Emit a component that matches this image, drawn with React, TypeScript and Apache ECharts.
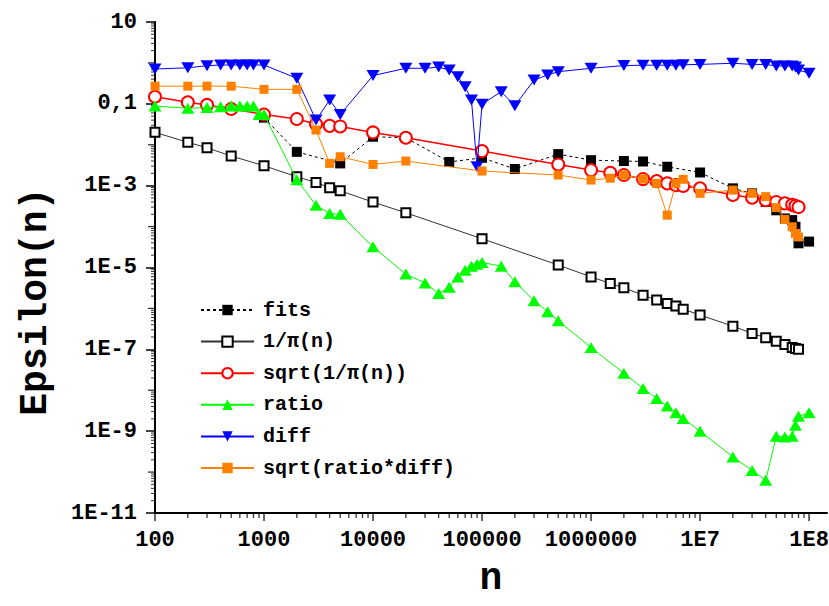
import React, { useEffect, useRef } from 'react';
import * as echarts from 'echarts';

const FONT = '"Liberation Mono", "Courier New", monospace';

// ---- data ----
const fitsN = [1000, 2000, 5000, 10000, 20000, 50000, 100000, 200000, 500000, 1e6, 2e6, 3e6, 5e6, 1e7, 2e7, 3e7, 4e7, 5e7, 6e7, 7e7, 7.5e7, 8e7, 1e8];
const fitsV = [0.046, 0.0067, 0.0035, 0.0157, 0.0148, 0.0038, 0.0048, 0.00255, 0.0059, 0.0042, 0.0040, 0.0039, 0.0029, 0.0021, 0.00086, 0.00065, 0.00040, 0.00025, 0.000158, 0.000144, 9.9e-5, 3.9e-5, 4.3e-5];

const piN = [100, 200, 300, 500, 1000, 2000, 3000, 4000, 5000, 10000, 20000, 100000, 500000, 1e6, 1.5e6, 2e6, 3e6, 4e6, 5e6, 6e6, 7e6, 1e7, 2e7, 3e7, 4e7, 5e7, 6e7, 7e7, 7.5e7, 8e7];
const invPiV = [0.0201, 0.01145, 0.00845, 0.0053, 0.00307, 0.00165, 0.0012, 0.00089, 0.00075, 3.97e-4, 2.17e-4, 5.04e-5, 1.15e-5, 5.9e-6, 4.08e-6, 3.19e-6, 2.11e-6, 1.6e-6, 1.32e-6, 1.14e-6, 9.6e-7, 6.86e-7, 3.69e-7, 2.45e-7, 1.91e-7, 1.58e-7, 1.32e-7, 1.11e-7, 1.05e-7, 1.0e-7];
const sqrtInvPiV = [0.149, 0.109, 0.094, 0.075, 0.055, 0.0425, 0.032, 0.029, 0.028, 0.020, 0.0148, 0.0070, 0.0033, 0.0024, 0.00206, 0.00182, 0.00145, 0.00129, 0.00114, 0.00103, 0.00098, 0.00086, 0.00059, 0.00051, 0.00044, 0.0004, 0.00037, 0.00034, 0.00032, 0.0003];

const ratioN = [100, 200, 300, 400, 500, 600, 700, 800, 900, 1000, 2000, 3000, 4000, 5000, 10000, 20000, 30000, 40000, 50000, 60000, 70000, 80000, 90000, 100000, 150000, 200000, 300000, 400000, 500000, 1e6, 2e6, 3e6, 4e6, 5e6, 6e6, 7e6, 1e7, 2e7, 3e7, 4e7, 5e7, 6e7, 7e7, 7.5e7, 8e7, 1e8];
const ratioV = [0.088, 0.078, 0.081, 0.085, 0.088, 0.088, 0.088, 0.088, 0.055, 0.055, 0.0014, 3.3e-4, 2.1e-4, 2.0e-4, 3.2e-5, 6.9e-6, 4.2e-6, 2.3e-6, 3.3e-6, 5.9e-6, 8.6e-6, 1.08e-5, 1.2e-5, 1.33e-5, 1.08e-5, 4.5e-6, 1.54e-6, 8.3e-7, 5.0e-7, 1.11e-7, 2.6e-8, 1.1e-8, 6.3e-9, 4.1e-9, 2.8e-9, 2.05e-9, 1.0e-9, 2.35e-10, 1.1e-10, 6.3e-11, 7.5e-10, 7.2e-10, 7.5e-10, 1.4e-9, 2.3e-9, 2.8e-9];

const diffN = [100, 200, 300, 400, 500, 600, 700, 800, 1000, 2000, 3000, 4000, 5000, 10000, 20000, 30000, 40000, 50000, 60000, 70000, 80000, 90000, 100000, 150000, 200000, 300000, 400000, 500000, 1e6, 2e6, 3e6, 4e6, 5e6, 6e6, 7e6, 1e7, 2e7, 3e7, 4e7, 5e7, 6e7, 7e7, 7.5e7, 8e7, 1e8];
const diffV = [0.71, 0.76, 0.855, 0.89, 0.89, 0.89, 0.89, 0.89, 0.89, 0.42, 0.04, 0.124, 0.055, 0.49, 0.74, 0.74, 0.79, 0.67, 0.46, 0.26, 0.124, 0.0029, 0.098, 0.198, 0.09, 0.38, 0.51, 0.61, 0.74, 0.86, 0.88, 0.88, 0.88, 0.88, 0.9, 0.92, 0.98, 0.92, 0.92, 0.84, 0.84, 0.84, 0.8, 0.67, 0.56];

const sqrtRdN = [100, 200, 300, 500, 1000, 2000, 3000, 4000, 5000, 10000, 20000, 100000, 500000, 1e6, 1.5e6, 2e6, 3e6, 4e6, 5e6, 6e6, 7e6, 1e7, 2e7, 3e7, 4e7, 5e7, 6e7, 7e7, 7.5e7, 8e7];
const sqrtRdV = [0.27, 0.27, 0.27, 0.27, 0.226, 0.226, 0.0229, 0.0035, 0.0051, 0.0033, 0.004, 0.00228, 0.00182, 0.00137, 0.00152, 0.00182, 0.00145, 0.00114, 0.00019, 0.00114, 0.00143, 0.00065, 0.00078, 0.00065, 0.00054, 0.00029, 0.00015, 9.9e-5, 6.8e-5, 5.6e-5];

const X_MIN = 100;
const X_MAX = 1.46e8;
const Y_MIN = 1e-11;
const Y_MAX = 10;
const xDecades = [2, 3, 4, 5, 6, 7, 8];
const yDecades = [-11, -10, -9, -8, -7, -6, -5, -4, -3, -2, -1, 0, 1];
const minorMult = [2, 3, 4, 5, 6, 7, 8, 9];

const zip = (xs: number[], ys: number[]) => xs.map((x, i) => [x, ys[i]]);

export default function App() {
  const ref = useRef<HTMLDivElement>(null);
  useEffect(() => {
    const chart = echarts.init(ref.current!, null, { renderer: 'svg' });

    const fmtPow = (v: number, yAxis: boolean) => {
      const e = Math.log10(v);
      const r = Math.round(e);
      if (Math.abs(e - r) > 1e-6) return '';
      if (yAxis) {
        if (r === 1) return '10';
        if (r === -1) return '0,1';
        return '1E' + r;
      }
      return r <= 6 ? String(Math.round(Math.pow(10, r))) : '1E' + r;
    };

    const lineSeries = (name: string, data: number[][], o: any) => ({
      name,
      type: 'line',
      data,
      ...o,
    });

    // tick positions (values), drawn as short bar symbols through the axes' own scales
    const xMajor: number[][] = xDecades.map((e) => [Math.pow(10, e), Y_MIN]);
    const xMinor: number[][] = [];
    xDecades.forEach((e) => {
      if (e < 8) minorMult.forEach((m) => xMinor.push([m * Math.pow(10, e), Y_MIN]));
    });
    const yMid: number[][] = yDecades.filter((e) => e % 2 === 0).map((e) => [X_MIN, Math.pow(10, e)]);
    const yMinor: number[][] = [];
    yDecades.forEach((e) => {
      if (e < 1) minorMult.forEach((m) => yMinor.push([X_MIN, m * Math.pow(10, e)]));
    });
    const tickSeries = (data: number[][], size: number[], offset: number[]) => ({
      type: 'scatter',
      data,
      symbol: 'rect',
      symbolSize: size,
      symbolOffset: offset,
      itemStyle: { color: '#000' },
      silent: true,
      clip: false,
      z: 1,
      tooltip: { show: false },
    });

    chart.setOption({
      animation: false,
      backgroundColor: '#fff',
      grid: { left: 155, top: 22, right: 2, bottom: 93, containLabel: false, outerBoundsMode: 'none' },
      legend: {
        orient: 'vertical',
        left: 195,
        top: 295,
        itemWidth: 53,
        itemHeight: 13,
        itemGap: 11.6,
        data: ['fits', '1/π(n)', 'sqrt(1/π(n))', 'ratio', 'diff', 'sqrt(ratio*diff)'],
        textStyle: { fontFamily: FONT, fontWeight: 'bold', fontSize: 20, color: '#000', lineHeight: 20, padding: [0, 0, 0, 4] },
      },
      xAxis: {
        type: 'log',
        logBase: 10,
        min: X_MIN,
        max: X_MAX,
        interval: 1,
        name: 'n',
        nameLocation: 'middle',
        nameGap: 46,
        nameTextStyle: { fontFamily: FONT, fontWeight: 'bold', fontSize: 38, color: '#000' },
        axisLine: { show: true, lineStyle: { color: '#000', width: 2 } },
        axisTick: { show: false },
        minorTick: { show: false },
        splitLine: { show: false },
        axisLabel: {
          margin: 16,
          fontFamily: FONT,
          fontWeight: 'bold',
          fontSize: 22,
          color: '#000',
          formatter: (v: number) => fmtPow(v, false),
        },
      },
      yAxis: {
        type: 'log',
        logBase: 10,
        min: Y_MIN,
        max: Y_MAX,
        interval: 2,
        name: 'Epsilon(n)\u00a0\u00a0\u00a0',
        nameLocation: 'middle',
        nameRotate: 90,
        nameGap: 101,
        nameTextStyle: { fontFamily: FONT, fontWeight: 'bold', fontSize: 38, color: '#000' },
        axisLine: { show: true, lineStyle: { color: '#000', width: 2 } },
        axisTick: { show: true, inside: false, length: 9, lineStyle: { color: '#000', width: 1.5 } },
        minorTick: { show: false },
        splitLine: { show: false },
        axisLabel: {
          margin: 18,
          fontFamily: FONT,
          fontWeight: 'bold',
          fontSize: 22,
          color: '#000',
          formatter: (v: number) => fmtPow(v, true),
        },
      },
      series: [
        lineSeries('fits', zip(fitsN, fitsV), {
          symbol: 'rect',
          symbolSize: 10,
          lineStyle: { color: '#000', width: 1, type: [3, 3] },
          itemStyle: { color: '#000' },
          z: 2,
        }),
        lineSeries('1/π(n)', zip(piN, invPiV), {
          symbol: 'rect',
          symbolSize: 9,
          lineStyle: { color: '#333', width: 1 },
          itemStyle: { color: '#fff', borderColor: '#000', borderWidth: 2 },
          z: 3,
        }),
        lineSeries('sqrt(1/π(n))', zip(piN, sqrtInvPiV), {
          symbol: 'circle',
          symbolSize: 12,
          lineStyle: { color: '#ff0000', width: 1.5 },
          itemStyle: { color: '#fff', borderColor: '#ff0000', borderWidth: 2 },
          z: 4,
        }),
        lineSeries('ratio', zip(ratioN, ratioV), {
          symbol: 'triangle',
          symbolSize: [13, 11],
          lineStyle: { color: '#00ff00', width: 1 },
          itemStyle: { color: '#00ff00' },
          z: 5,
        }),
        lineSeries('diff', zip(diffN, diffV), {
          symbol: 'triangle',
          symbolRotate: 180,
          symbolSize: [13, 11],
          lineStyle: { color: '#0000ff', width: 1 },
          itemStyle: { color: '#0000ff' },
          z: 6,
        }),
        lineSeries('sqrt(ratio*diff)', zip(sqrtRdN, sqrtRdV), {
          symbol: 'rect',
          symbolSize: 9,
          lineStyle: { color: '#ff8000', width: 1 },
          itemStyle: { color: '#ff8000' },
          z: 7,
        }),
        tickSeries(xMajor, [1.5, 8], [0, 4]),
        tickSeries(xMinor, [1.3, 5], [0, 2.5]),
        tickSeries(yMid, [7, 1.3], [-3.5, 0]),
        tickSeries(yMinor, [4, 1], [-2, 0]),
      ],
    });

    return () => chart.dispose();
  }, []);
  return (
    <div
      ref={ref}
      style={{ position: 'fixed', left: 0, top: 0, width: 829, height: 606, background: '#fff' }}
    />
  );
}
